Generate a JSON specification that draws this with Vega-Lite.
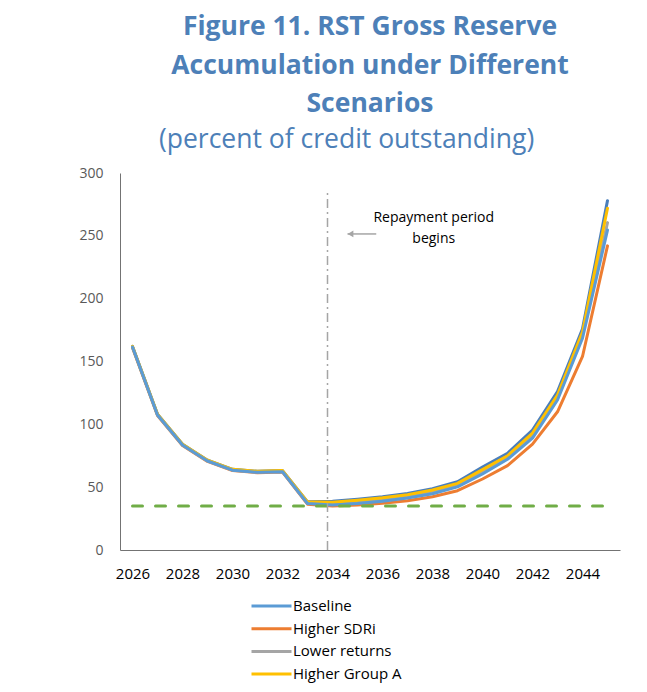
{
  "$schema": "https://vega.github.io/schema/vega-lite/v6.json",
  "width": 500,
  "height": 377,
  "autosize": {"type": "none"},
  "padding": {"left": 120, "top": 173, "right": 27, "bottom": 142},
  "background": "white",
  "config": {
    "view": {"stroke": null},
    "font": "Open Sans",
    "axis": {"grid": false, "ticks": false, "tickSize": 0, "domainColor": "#737373", "domainWidth": 1, "labelFont": "Open Sans", "title": null},
    "legend": {"orient": "none", "legendX": 130, "legendY": 423, "direction": "vertical", "symbolType": "stroke", "symbolSize": 1600, "symbolStrokeWidth": 3, "labelFont": "Open Sans", "labelFontSize": 15, "labelColor": "#000000", "labelOffset": 0, "clipHeight": 20, "rowPadding": 2.7, "padding": 0}
  },
  "title": {
    "text": ["Figure 11. RST Gross Reserve", "Accumulation under Different", "Scenarios"],
    "subtitle": "(percent of credit outstanding)\u00a0\u2800\u2800",
    "anchor": "middle",
    "frame": "group",
    "font": "Open Sans",
    "fontSize": 26.5,
    "fontWeight": "bold",
    "color": "#4D80B8",
    "lineHeight": 38.5,
    "subtitleFont": "Open Sans",
    "subtitleFontSize": 26.5,
    "subtitleFontWeight": "normal",
    "subtitleColor": "#4D80B8",
    "subtitleLineHeight": 38.5,
    "subtitlePadding": 9,
    "offset": 13
  },
  "datasets": {
    "series": [
      {"year": 2026, "series": "Baseline", "value": 161.5},
      {"year": 2027, "series": "Baseline", "value": 107.4},
      {"year": 2028, "series": "Baseline", "value": 83.5},
      {"year": 2029, "series": "Baseline", "value": 70.8},
      {"year": 2030, "series": "Baseline", "value": 63.5},
      {"year": 2031, "series": "Baseline", "value": 61.8},
      {"year": 2032, "series": "Baseline", "value": 62.3},
      {"year": 2033, "series": "Baseline", "value": 37.0},
      {"year": 2034, "series": "Baseline", "value": 35.8},
      {"year": 2035, "series": "Baseline", "value": 37.0},
      {"year": 2036, "series": "Baseline", "value": 38.8},
      {"year": 2037, "series": "Baseline", "value": 41.3},
      {"year": 2038, "series": "Baseline", "value": 44.8},
      {"year": 2039, "series": "Baseline", "value": 50.2},
      {"year": 2040, "series": "Baseline", "value": 60.5},
      {"year": 2041, "series": "Baseline", "value": 72.2},
      {"year": 2042, "series": "Baseline", "value": 89.0},
      {"year": 2043, "series": "Baseline", "value": 119.4},
      {"year": 2044, "series": "Baseline", "value": 168.5},
      {"year": 2045, "series": "Baseline", "value": 254.6},
      {"year": 2026, "series": "Higher SDRi", "value": 161.0},
      {"year": 2027, "series": "Higher SDRi", "value": 107.0},
      {"year": 2028, "series": "Higher SDRi", "value": 83.2},
      {"year": 2029, "series": "Higher SDRi", "value": 70.5},
      {"year": 2030, "series": "Higher SDRi", "value": 63.2},
      {"year": 2031, "series": "Higher SDRi", "value": 61.5},
      {"year": 2032, "series": "Higher SDRi", "value": 62.0},
      {"year": 2033, "series": "Higher SDRi", "value": 36.5},
      {"year": 2034, "series": "Higher SDRi", "value": 35.0},
      {"year": 2035, "series": "Higher SDRi", "value": 35.8},
      {"year": 2036, "series": "Higher SDRi", "value": 37.1},
      {"year": 2037, "series": "Higher SDRi", "value": 39.2},
      {"year": 2038, "series": "Higher SDRi", "value": 42.4},
      {"year": 2039, "series": "Higher SDRi", "value": 47.2},
      {"year": 2040, "series": "Higher SDRi", "value": 56.5},
      {"year": 2041, "series": "Higher SDRi", "value": 67.1},
      {"year": 2042, "series": "Higher SDRi", "value": 84.3},
      {"year": 2043, "series": "Higher SDRi", "value": 110.0},
      {"year": 2044, "series": "Higher SDRi", "value": 154.0},
      {"year": 2045, "series": "Higher SDRi", "value": 242.0},
      {"year": 2026, "series": "Lower returns", "value": 161.5},
      {"year": 2027, "series": "Lower returns", "value": 107.4},
      {"year": 2028, "series": "Lower returns", "value": 83.6},
      {"year": 2029, "series": "Lower returns", "value": 70.9},
      {"year": 2030, "series": "Lower returns", "value": 63.6},
      {"year": 2031, "series": "Lower returns", "value": 62.0},
      {"year": 2032, "series": "Lower returns", "value": 62.5},
      {"year": 2033, "series": "Lower returns", "value": 37.3},
      {"year": 2034, "series": "Lower returns", "value": 36.8},
      {"year": 2035, "series": "Lower returns", "value": 38.2},
      {"year": 2036, "series": "Lower returns", "value": 40.0},
      {"year": 2037, "series": "Lower returns", "value": 42.6},
      {"year": 2038, "series": "Lower returns", "value": 46.2},
      {"year": 2039, "series": "Lower returns", "value": 51.5},
      {"year": 2040, "series": "Lower returns", "value": 62.0},
      {"year": 2041, "series": "Lower returns", "value": 73.5},
      {"year": 2042, "series": "Lower returns", "value": 91.0},
      {"year": 2043, "series": "Lower returns", "value": 121.0},
      {"year": 2044, "series": "Lower returns", "value": 171.0},
      {"year": 2045, "series": "Lower returns", "value": 260.5},
      {"year": 2026, "series": "Higher Group A", "value": 162.0},
      {"year": 2027, "series": "Higher Group A", "value": 108.0},
      {"year": 2028, "series": "Higher Group A", "value": 84.2},
      {"year": 2029, "series": "Higher Group A", "value": 71.4},
      {"year": 2030, "series": "Higher Group A", "value": 64.2},
      {"year": 2031, "series": "Higher Group A", "value": 62.6},
      {"year": 2032, "series": "Higher Group A", "value": 63.2},
      {"year": 2033, "series": "Higher Group A", "value": 38.3},
      {"year": 2034, "series": "Higher Group A", "value": 38.0},
      {"year": 2035, "series": "Higher Group A", "value": 39.6},
      {"year": 2036, "series": "Higher Group A", "value": 41.5},
      {"year": 2037, "series": "Higher Group A", "value": 44.0},
      {"year": 2038, "series": "Higher Group A", "value": 47.7},
      {"year": 2039, "series": "Higher Group A", "value": 53.0},
      {"year": 2040, "series": "Higher Group A", "value": 64.0},
      {"year": 2041, "series": "Higher Group A", "value": 75.0},
      {"year": 2042, "series": "Higher Group A", "value": 93.0},
      {"year": 2043, "series": "Higher Group A", "value": 123.3},
      {"year": 2044, "series": "Higher Group A", "value": 173.5},
      {"year": 2045, "series": "Higher Group A", "value": 272.0},
      {"year": 2026, "series": "Series 5", "value": 162.0},
      {"year": 2027, "series": "Series 5", "value": 108.0},
      {"year": 2028, "series": "Series 5", "value": 84.2},
      {"year": 2029, "series": "Series 5", "value": 71.4},
      {"year": 2030, "series": "Series 5", "value": 64.2},
      {"year": 2031, "series": "Series 5", "value": 62.6},
      {"year": 2032, "series": "Series 5", "value": 63.2},
      {"year": 2033, "series": "Series 5", "value": 38.3},
      {"year": 2034, "series": "Series 5", "value": 38.8},
      {"year": 2035, "series": "Series 5", "value": 40.4},
      {"year": 2036, "series": "Series 5", "value": 42.4},
      {"year": 2037, "series": "Series 5", "value": 45.0},
      {"year": 2038, "series": "Series 5", "value": 48.8},
      {"year": 2039, "series": "Series 5", "value": 54.3},
      {"year": 2040, "series": "Series 5", "value": 66.0},
      {"year": 2041, "series": "Series 5", "value": 77.0},
      {"year": 2042, "series": "Series 5", "value": 95.5},
      {"year": 2043, "series": "Series 5", "value": 126.0},
      {"year": 2044, "series": "Series 5", "value": 176.0},
      {"year": 2045, "series": "Series 5", "value": 278.0}
    ],
    "threshold": [
      {"year": 2026, "value": 35},
      {"year": 2045, "value": 35}
    ],
    "marker": [
      {"year": 2033.8, "value": 0, "value2": 285}
    ],
    "arrow": [
      {"year": 2034.6, "year2": 2035.75, "value": 251.5}
    ],
    "arrowhead": [
      {"year": 2034.72, "value": 251.5}
    ],
    "note": [
      {"year": 2038.05, "value": 264.5, "label": "Repayment period\nbegins"}
    ]
  },
  "layer": [
    {
      "data": {"name": "series"},
      "transform": [{"filter": "datum.series === 'Higher SDRi'"}],
      "mark": {"type": "line", "strokeWidth": 3, "strokeJoin": "round", "strokeCap": "round"},
      "encoding": {
        "x": {"field": "year", "type": "quantitative", "scale": {"domain": [2025.5, 2045.5], "nice": false, "zero": false},
              "axis": {"values": [2026, 2028, 2030, 2032, 2034, 2036, 2038, 2040, 2042, 2044], "format": "d", "labelFontSize": 15, "labelColor": "#000000", "labelPadding": 16, "labelFlush": false, "labelOverlap": false, "title": null}},
        "y": {"field": "value", "type": "quantitative", "scale": {"domain": [0, 300], "nice": false},
              "axis": {"values": [0, 50, 100, 150, 200, 250, 300], "labelFontSize": 14, "labelColor": "#595959", "labelPadding": 17, "title": null}},
        "color": {"field": "series", "type": "nominal", "title": null,
                  "scale": {"domain": ["Baseline", "Higher SDRi", "Lower returns", "Higher Group A"], "range": ["#5B9BD5", "#ED7D31", "#A5A5A5", "#FFC000"]}}
      }
    },
    {
      "data": {"name": "series"},
      "transform": [{"filter": "datum.series === 'Lower returns'"}],
      "mark": {"type": "line", "strokeWidth": 3, "strokeJoin": "round", "strokeCap": "round"},
      "encoding": {
        "x": {"field": "year", "type": "quantitative"},
        "y": {"field": "value", "type": "quantitative"},
        "color": {"field": "series", "type": "nominal", "title": null}
      }
    },
    {
      "data": {"name": "series"},
      "transform": [{"filter": "datum.series === 'Series 5'"}],
      "mark": {"type": "line", "strokeWidth": 3, "strokeJoin": "round", "strokeCap": "round", "color": "#4A7EBB"},
      "encoding": {
        "x": {"field": "year", "type": "quantitative"},
        "y": {"field": "value", "type": "quantitative"}
      }
    },
    {
      "data": {"name": "series"},
      "transform": [{"filter": "datum.series === 'Higher Group A'"}],
      "mark": {"type": "line", "strokeWidth": 3, "strokeJoin": "round", "strokeCap": "round"},
      "encoding": {
        "x": {"field": "year", "type": "quantitative"},
        "y": {"field": "value", "type": "quantitative"},
        "color": {"field": "series", "type": "nominal", "title": null}
      }
    },
    {
      "data": {"name": "series"},
      "transform": [{"filter": "datum.series === 'Baseline'"}],
      "mark": {"type": "line", "strokeWidth": 3, "strokeJoin": "round", "strokeCap": "round"},
      "encoding": {
        "x": {"field": "year", "type": "quantitative"},
        "y": {"field": "value", "type": "quantitative"},
        "color": {"field": "series", "type": "nominal", "title": null}
      }
    },
    {
      "data": {"name": "threshold"},
      "mark": {"type": "line", "strokeWidth": 3, "strokeDash": [10, 13], "strokeCap": "round", "color": "#70AD47"},
      "encoding": {
        "x": {"field": "year", "type": "quantitative"},
        "y": {"field": "value", "type": "quantitative"}
      }
    },
    {
      "data": {"name": "marker"},
      "mark": {"type": "rule", "strokeWidth": 1.5, "strokeDash": [9, 4, 2, 4], "color": "#A5A5A5"},
      "encoding": {
        "x": {"field": "year", "type": "quantitative"},
        "y": {"field": "value", "type": "quantitative"},
        "y2": {"field": "value2"}
      }
    },
    {
      "data": {"name": "arrow"},
      "mark": {"type": "rule", "strokeWidth": 1.5, "color": "#A5A5A5"},
      "encoding": {
        "x": {"field": "year", "type": "quantitative"},
        "x2": {"field": "year2"},
        "y": {"field": "value", "type": "quantitative"}
      }
    },
    {
      "data": {"name": "arrowhead"},
      "mark": {"type": "point", "shape": "triangle-left", "filled": true, "size": 45, "color": "#A5A5A5", "opacity": 1},
      "encoding": {
        "x": {"field": "year", "type": "quantitative"},
        "y": {"field": "value", "type": "quantitative"}
      }
    },
    {
      "data": {"name": "note"},
      "mark": {"type": "text", "font": "Open Sans", "fontSize": 14, "color": "#000000", "align": "center", "baseline": "middle", "lineBreak": "\n", "lineHeight": 21},
      "encoding": {
        "x": {"field": "year", "type": "quantitative"},
        "y": {"field": "value", "type": "quantitative"},
        "text": {"field": "label"}
      }
    }
  ]
}
